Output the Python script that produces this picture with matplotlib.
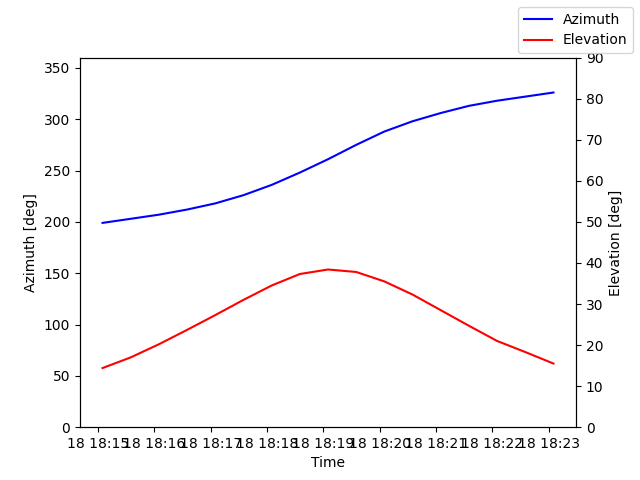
import numpy as np
import matplotlib
matplotlib.use("Agg")
import matplotlib.pyplot as plt
from datetime import datetime, timedelta

t0 = datetime(2024, 1, 18, 18, 15, 5)
times = [t0 + timedelta(seconds=30 * i) for i in range(17)]
azimuth = [199, 203, 207, 212, 218, 226, 236, 248, 261, 275, 288, 298, 306, 313, 318, 322, 326]
elevation = [14.4, 17.0, 20.2, 23.7, 27.3, 31.0, 34.5, 37.3, 38.4, 37.8, 35.5, 32.3, 28.5, 24.7, 21.0, 18.3, 15.5]

fig, ax1 = plt.subplots(figsize=(6.4, 4.8), dpi=100)
ax1.plot(times, azimuth, color="blue", label="Azimuth")
ax1.set_ylim(0, 360)
ax1.set_xlabel("Time")
ax1.set_ylabel("Azimuth [deg]")

ax2 = ax1.twinx()
ax2.plot(times, elevation, color="red", label="Elevation")
ax2.set_ylim(0, 90)
ax2.set_ylabel("Elevation [deg]")

fig.legend(loc="upper right")
fig.savefig("out.png")
